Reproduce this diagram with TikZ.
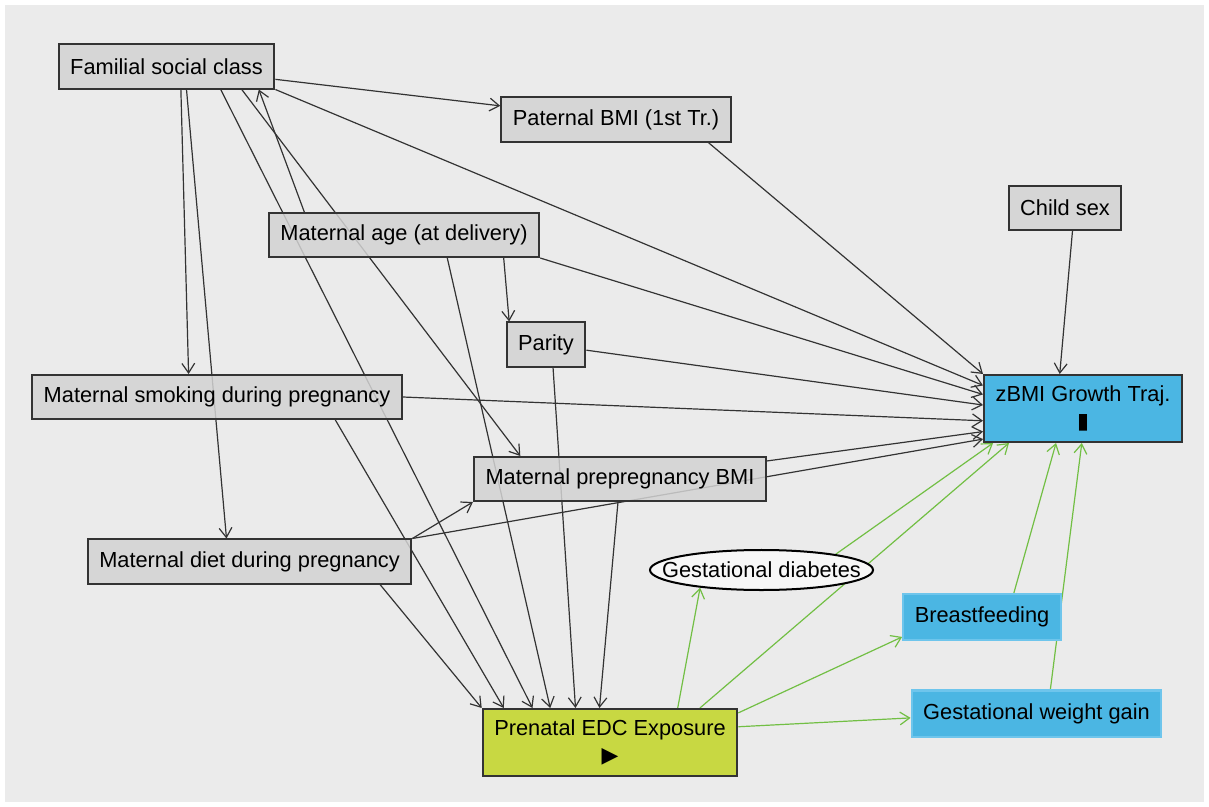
\documentclass[tikz,border=0pt]{standalone}
\usepackage{fontspec}
\setmainfont{Liberation Sans}
\newfontfamily\symfont{DejaVu Sans}
\usetikzlibrary{arrows.meta, shapes.geometric}
\definecolor{panelgray}{HTML}{EBEBEB}
\definecolor{nodegray}{HTML}{D3D3D3}
\definecolor{edgegray}{HTML}{333333}
\definecolor{outblue}{HTML}{4BB6E3}
\definecolor{medblue}{HTML}{6EC5EC}
\definecolor{expgreen}{HTML}{C8D842}
\definecolor{pathgreen}{HTML}{72BF44}
\pgfdeclarelayer{back}
\pgfsetlayers{back,main}
\tikzset{var/.style={rectangle,draw=edgegray,fill=nodegray,line width=0.05cm,minimum height=1.1cm,inner xsep=0.29cm,align=center,fill opacity=0.85,text opacity=1}}
\tikzset{outcome/.style={var,fill=outblue,fill opacity=1,minimum height=1.675cm}}
\tikzset{exposure/.style={var,fill=expgreen,fill opacity=1,minimum height=1.675cm}}
\tikzset{mediator/.style={var,fill=outblue,fill opacity=1,draw=medblue,minimum height=1.15cm}}
\tikzset{latent/.style={ellipse,draw=black,fill=white!97!black,line width=0.05cm,minimum width=5.575cm,minimum height=1cm,inner sep=0pt}}
\tikzset{arco/.style={draw=edgegray,line width=0.03cm,-{Straight Barb[length=0.24cm,width=0.32cm]}}}
\tikzset{camino/.style={arco,draw=pathgreen}}

\begin{document}
\begin{tikzpicture}[
                x=0.025cm, y=-0.025cm,
                font=\fontsize{15.5}{19}\selectfont
            ]
                \useasboundingbox (0,0) rectangle (1209,807);

                \node[var] (fsc) at (166.5,66.5) {Familial social class};
                \node[var] (pat) at (616,119.5) {Paternal BMI (1st Tr.)};
                \node[var] (sex) at (1065,208) {Child sex};
                \node[var] (age) at (404,235) {Maternal age (at delivery)};
                \node[var] (par) at (546,344.5) {Parity};
                \node[var] (smk) at (217,397) {Maternal smoking during pregnancy};
                \node[outcome] (zbmi) at (1083,408.5) {zBMI Growth Traj.\\{\symfont ▮}};
                \node[var] (pre) at (620,479) {Maternal prepregnancy BMI};
                \node[var] (diet) at (249.5,561.5) {Maternal diet during pregnancy};
                \node[latent, label=center:Gestational diabetes] (gd) at (761.5,570) {};
                \node[mediator] (bf) at (982,617) {Breastfeeding};
                \node[mediator] (gwg) at (1036.5,713.5) {Gestational weight gain};
                \node[exposure] (edc) at (610,742.5) {Prenatal EDC Exposure\\{\symfont ▶}};

                \begin{pgfonlayer}{back}
                \fill[white] (0,0) rectangle (1209,807);
                \fill[panelgray] (5,5) rectangle (1204,802);

                % covariates
                \draw[arco] (fsc) -- (pat);
                \draw[arco] (fsc.south east) -- (zbmi.167);
                \draw[arco] (age.167) -- (fsc.-14);
                \draw[arco] (fsc.-58) -- (smk.141);
                \draw[arco] (fsc.-49) -- (diet.135);
                \draw[arco] (fsc.-23) -- (edc.156);
                \draw[arco] (fsc.-17) -- (pre.167);
                \draw[arco] (pat.-14) -- (zbmi.north west);
                \draw[arco] (sex.-72) -- (zbmi.124);
                \draw[arco] (age.-13) -- (par.148);
                \draw[arco] (age.south east) -- (zbmi.172);
                \draw[arco] (age.-28) -- (edc.150);
                \draw[arco] (par.-8) -- (zbmi.178);
                \draw[arco] (par.-73) -- (edc.135);
                \draw[arco] (smk.east) -- (zbmi.187);
                \draw[arco] (smk.-11) -- (edc.162);
                \draw[arco] (pre.7) -- (zbmi.193);
                \draw[arco] (pre.-95) -- (edc.107);
                \draw[arco] (diet.north east) -- (pre.south west);
                \draw[arco] (diet.north east) -- (zbmi.197);
                \draw[arco] (diet.-10) -- (edc.north west);

                % causal paths
                \draw[camino] (edc.27) -- (gd.196);
                \draw[camino] (edc.21) -- (zbmi.205);
                \draw[camino] (gd.12) -- (zbmi.201);
                \draw[camino] (edc.13) -- (bf.194);
                \draw[camino] (edc.7) -- (gwg.182);
                \draw[camino] (bf.37) -- (zbmi.232);
                \draw[camino] (gwg.60) -- (zbmi.268);
                \end{pgfonlayer}
            \end{tikzpicture}
\end{document}
